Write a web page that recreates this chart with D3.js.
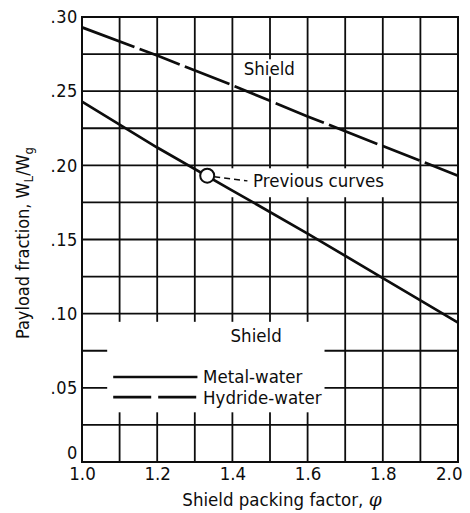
<!DOCTYPE html>
<html>
<head>
<meta charset="utf-8">
<script src="https://cdn.jsdelivr.net/npm/d3@7"></script>
<style>
  html, body { margin: 0; padding: 0; background: #fff; }
  svg { display: block; }
  text { font-family: "DejaVu Sans Condensed", "Liberation Sans Narrow", "DejaVu Sans", sans-serif; fill: #0d0d0d; }
</style>
</head>
<body>
<svg id="chart" width="470" height="513"></svg>
<script>
// Shield packing factor (x) against payload fraction W_L/W_g (y)
const phiValues      = [1.0, 1.2, 1.4, 1.6, 1.8, 2.0];
const metalWater     = [0.243, 0.212, 0.183, 0.154, 0.124, 0.094];
const hydrideWater   = [0.293, 0.274, 0.254, 0.233, 0.213, 0.193];
const xTickValues    = [1.0, 1.2, 1.4, 1.6, 1.8, 2.0];
const xTickLabels    = ["1.0", "1.2", "1.4", "1.6", "1.8", "2.0"];
const yTickValues    = [0, 0.05, 0.10, 0.15, 0.20, 0.25, 0.30];
const yTickLabels    = ["0", ".05", ".10", ".15", ".20", ".25", ".30"];
const xGridValues    = [1.1, 1.2, 1.3, 1.4, 1.5, 1.6, 1.7, 1.8, 1.9];
const yGridValues    = [0.025, 0.05, 0.075, 0.10, 0.125, 0.15, 0.175, 0.20, 0.225, 0.25, 0.275];
const previousPoint  = { phi: 1.333, value: 0.193 };
const seriesNames    = ["Metal-water", "Hydride-water"];

const svg = d3.select("#chart");
const x = d3.scaleLinear().domain([1.0, 2.0]).range([82, 458]);
const y = d3.scaleLinear().domain([0, 0.30]).range([462, 17]);

const ink = "#0d0d0d";
const labelSize = "18.5px";

// grid
const grid = svg.append("g");
grid.selectAll("line.v").data(xGridValues).join("line")
  .attr("x1", d => x(d)).attr("x2", d => x(d))
  .attr("y1", y(0.30)).attr("y2", y(0))
  .attr("stroke", ink).attr("stroke-width", 1.8);
grid.selectAll("line.h").data(yGridValues).join("line")
  .attr("x1", x(1.0)).attr("x2", x(2.0))
  .attr("y1", d => y(d)).attr("y2", d => y(d))
  .attr("stroke", ink).attr("stroke-width", 1.8);

// cleared areas behind the labels and the key
const clearBoxes = [
  { x0: 1.067, x1: 1.645, y0: 0.0335, y1: 0.0945 },   // key + lower "Shield"
  { x0: 1.42,  x1: 1.585, y0: 0.260,  y1: 0.2715 },   // upper "Shield"
  { x0: 1.37,  x1: 1.85,  y0: 0.1785, y1: 0.198 }     // "Previous curves"
];
svg.append("g").selectAll("rect").data(clearBoxes).join("rect")
  .attr("x", d => x(d.x0)).attr("y", d => y(d.y1))
  .attr("width", d => x(d.x1) - x(d.x0)).attr("height", d => y(d.y0) - y(d.y1))
  .attr("fill", "#fff");

// frame
svg.append("rect")
  .attr("x", x(1.0)).attr("y", y(0.30))
  .attr("width", x(2.0) - x(1.0)).attr("height", y(0) - y(0.30))
  .attr("fill", "none").attr("stroke", ink).attr("stroke-width", 2);

// axes
const xAxis = d3.axisBottom(x).tickValues(xTickValues).tickSize(0)
  .tickFormat((d, i) => xTickLabels[i]);
const gx = svg.append("g").attr("transform", `translate(0,${y(0)})`).call(xAxis);
gx.select(".domain").remove();
gx.selectAll("text").attr("dy", 0).attr("y", 18).style("font-size", "18.5px").attr("fill", ink)
  .attr("text-anchor", d => d === 2.0 ? "end" : "middle")
  .attr("x", d => d === 2.0 ? 4 : 0);

const yAxis = d3.axisLeft(y).tickValues(yTickValues).tickSize(0)
  .tickFormat((d, i) => yTickLabels[i]);
const gy = svg.append("g").attr("transform", `translate(${x(1.0)},0)`).call(yAxis);
gy.select(".domain").remove();
gy.selectAll("text").attr("x", -4).attr("dy", d => d === 0 ? "-0.2em" : "0.32em")
  .style("font-size", "18px").style("letter-spacing", "0.6px").attr("fill", ink);

// axis titles
const xt = svg.append("text").attr("x", 282).attr("y", 506).attr("text-anchor", "middle")
  .style("font-size", labelSize);
xt.append("tspan").text("Shield packing factor, ");
xt.append("tspan").attr("font-style", "italic").attr("font-family", "DejaVu Serif").text("φ");

const yt = svg.append("text").attr("transform", "translate(29,243) rotate(-90)")
  .attr("text-anchor", "middle").style("font-size", "18px");
yt.append("tspan").text("Payload fraction,  W");
yt.append("tspan").attr("dy", 4).style("font-size", "13px").text("L");
yt.append("tspan").attr("dy", -4).text("/W");
yt.append("tspan").attr("dy", 4).style("font-size", "13px").text("g");

// curves
const line = d3.line().x(d => x(d[0])).y(d => y(d[1]));
svg.append("path").datum(d3.zip(phiValues, metalWater))
  .attr("d", line).attr("fill", "none").attr("stroke", ink).attr("stroke-width", 2.7);
svg.append("path").datum(d3.zip(phiValues, hydrideWater))
  .attr("d", line).attr("fill", "none").attr("stroke", ink).attr("stroke-width", 2.7)
  .attr("stroke-dasharray", "56,5.5,43,5.5,48,5.5,39,5.5,52,5.5,52,5.5,40,5.5,60");

// previous-curves marker and leader
const px = x(previousPoint.phi), py = y(previousPoint.value);
svg.append("path")
  .attr("d", d3.line()([[px + 7, py + 1], [x(1.44), y(0.1895)]]))
  .attr("fill", "none").attr("stroke", ink).attr("stroke-width", 1.4)
  .attr("stroke-dasharray", "6,4");
svg.append("circle").attr("cx", px).attr("cy", py).attr("r", 7)
  .attr("fill", "#fff").attr("stroke", ink).attr("stroke-width", 2);
svg.append("text").attr("x", x(1.455)).attr("y", y(0.190)).attr("dy", "0.35em")
  .style("font-size", labelSize).text("Previous curves");

// region labels
svg.append("text").attr("x", x(1.43)).attr("y", y(0.2655)).attr("dy", "0.35em")
  .style("font-size", labelSize).text("Shield");
svg.append("text").attr("x", x(1.395)).attr("y", y(0.0855)).attr("dy", "0.35em")
  .style("font-size", labelSize).text("Shield");

// key
const keyRows = [
  { name: seriesNames[0], value: 0.0573, dash: null },
  { name: seriesNames[1], value: 0.0438, dash: "38,7" }
];
const key = svg.append("g");
keyRows.forEach(r => {
  key.append("line")
    .attr("x1", x(1.083)).attr("x2", x(1.307))
    .attr("y1", y(r.value)).attr("y2", y(r.value))
    .attr("stroke", ink).attr("stroke-width", 2.7)
    .attr("stroke-dasharray", r.dash);
  key.append("text").attr("x", x(1.322)).attr("y", y(r.value)).attr("dy", "0.35em")
    .style("font-size", labelSize).text(r.name);
});
</script>
</body>
</html>
